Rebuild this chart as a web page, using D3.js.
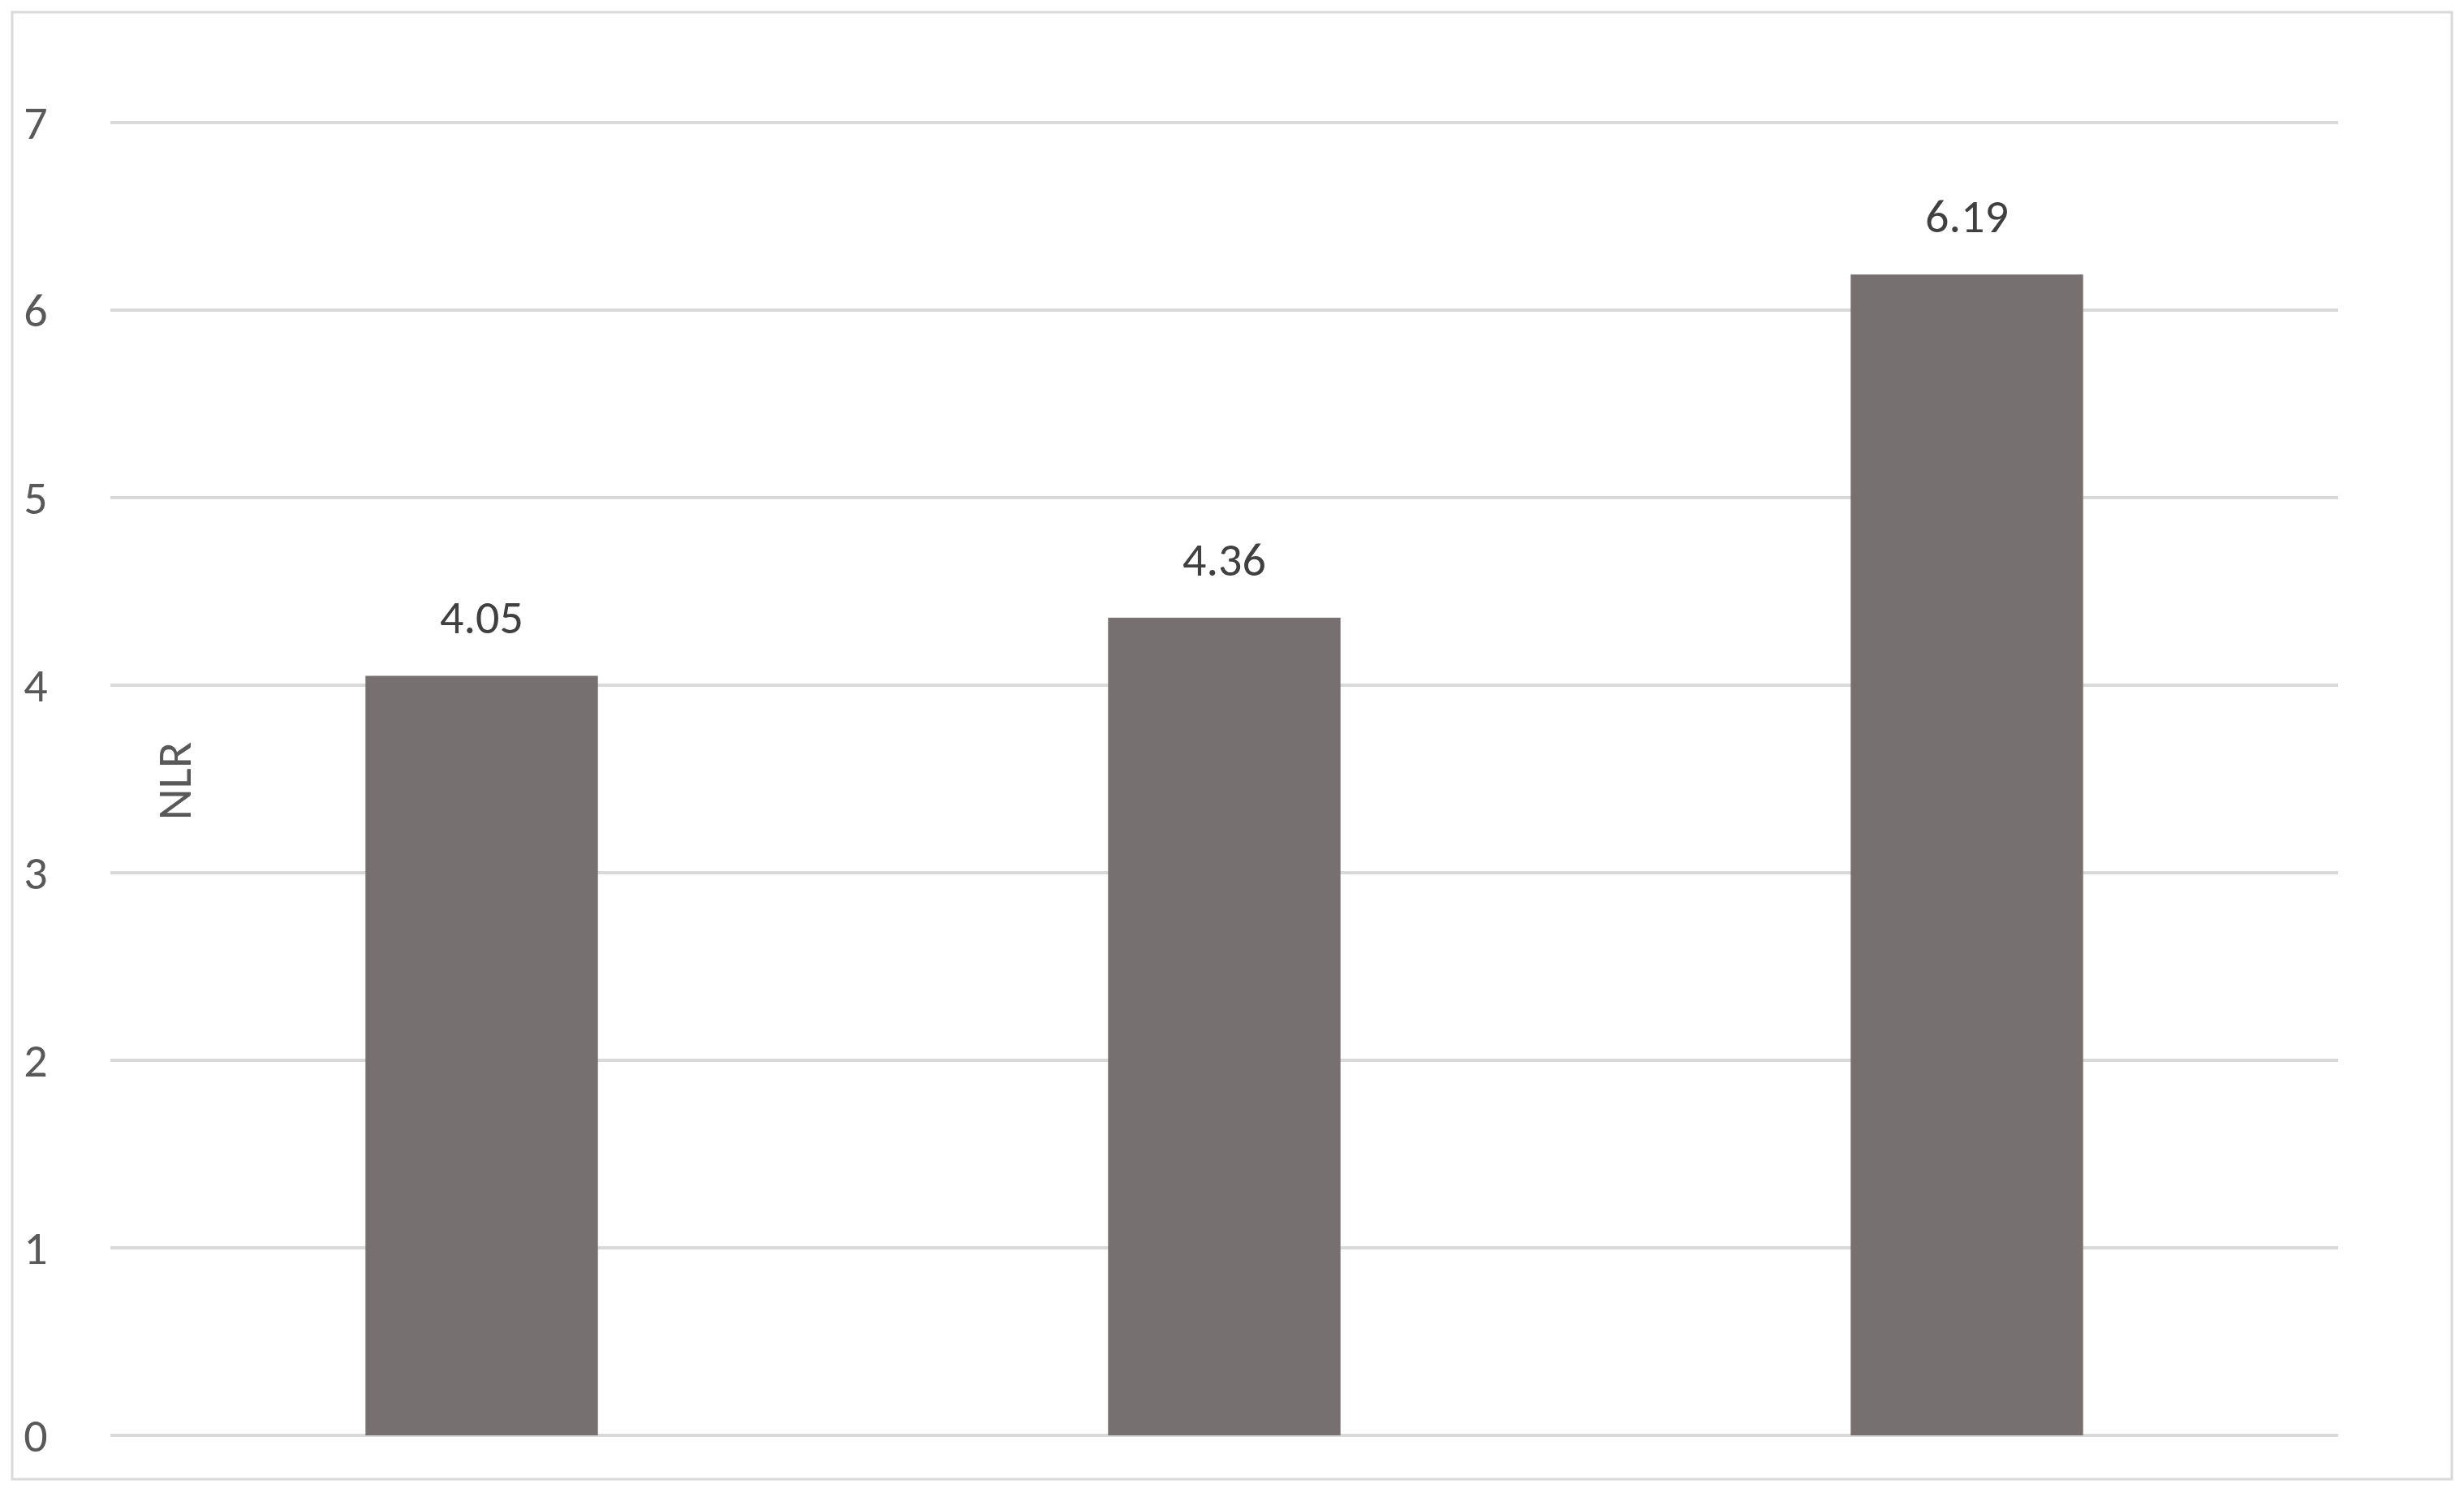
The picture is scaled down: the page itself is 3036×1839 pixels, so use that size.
<!DOCTYPE html>
<html>
<head>
<meta charset="utf-8">
<script src="https://cdn.jsdelivr.net/npm/d3@7"></script>
<style>
  body { margin: 0; background: #fff; }
  text { font-family: Calibri, Carlito, "Liberation Sans", "Open Sans", sans-serif; }
</style>
</head>
<body>
<svg id="chart" width="3036" height="1839"></svg>
<script>
"use strict";

// data
var categories = ["A", "B", "C"];
var values = [4.05, 4.36, 6.19];
var yTicks = [0, 1, 2, 3, 4, 5, 6, 7];
var yLabel = "NLR";

var svg = d3.select("#chart");
var W = 3036, H = 1839;
var m = { left: 136, right: W - 2881, top: 151, bottom: H - 1768 };

// chart frame
svg.append("rect")
  .attr("x", 15).attr("y", 15)
  .attr("width", W - 30).attr("height", H - 32)
  .attr("fill", "#fff").attr("stroke", "#d9d9d9").attr("stroke-width", 3);

var x = d3.scaleBand()
  .domain(categories)
  .range([m.left, W - m.right])
  .paddingInner(0.687).paddingOuter(0.3435);

var y = d3.scaleLinear()
  .domain([0, 7])
  .range([H - m.bottom, m.top]);

// gridlines
svg.append("g").selectAll("line")
  .data(yTicks).enter().append("line")
  .attr("x1", m.left).attr("x2", W - m.right)
  .attr("y1", function(d) { return y(d); })
  .attr("y2", function(d) { return y(d); })
  .attr("stroke", "#d9d9d9").attr("stroke-width", 4);

// tick labels
svg.append("g").selectAll("text")
  .data(yTicks).enter().append("text")
  .attr("x", 44)
  .attr("y", function(d) { return y(d); })
  .attr("dy", "0.35em")
  .attr("text-anchor", "middle")
  .attr("font-size", 58)
  .attr("fill", "#595959")
  .text(function(d) { return d; });

// bars
svg.append("g").selectAll("rect")
  .data(values).enter().append("rect")
  .attr("x", function(d, i) { return x(categories[i]); })
  .attr("width", x.bandwidth())
  .attr("y", function(d) { return y(d); })
  .attr("height", function(d) { return y(0) - y(d); })
  .attr("fill", "#767170");

// value labels
svg.append("g").selectAll("text")
  .data(values).enter().append("text")
  .attr("x", function(d, i) { return x(categories[i]) + x.bandwidth() / 2; })
  .attr("y", function(d) { return y(d) - 52; })
  .attr("text-anchor", "middle")
  .attr("font-size", 58)
  .attr("fill", "#404040")
  .text(function(d) { return d.toFixed(2); });

// axis title
svg.append("text")
  .attr("transform", "translate(235,962) rotate(-90)")
  .attr("text-anchor", "middle")
  .attr("font-size", 60)
  .attr("fill", "#595959")
  .text(yLabel);
</script>
</body>
</html>
